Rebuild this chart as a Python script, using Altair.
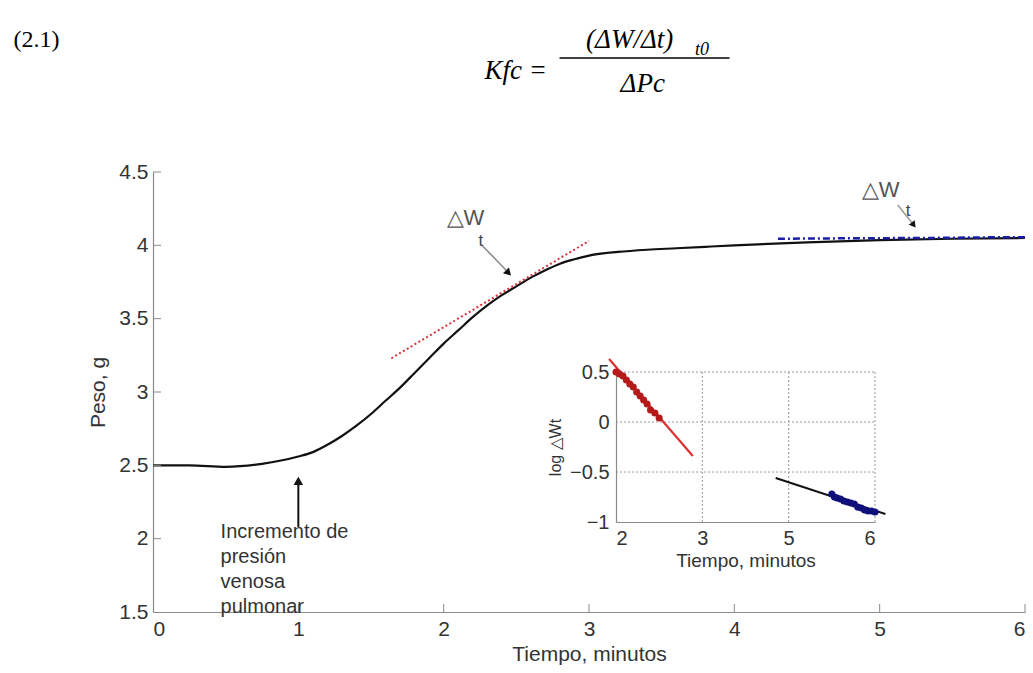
import altair as alt
import pandas as pd

# ---------------- main curve: Peso (g) vs Tiempo (min) ----------------
t_main = [0, 0.25, 0.5, 0.75, 1.0, 1.1, 1.2, 1.3, 1.4, 1.5, 1.6, 1.7, 1.8, 1.9, 2.0,
          2.1, 2.2, 2.3, 2.4, 2.5, 2.6, 2.7, 2.8, 2.9, 3.0, 3.2, 3.4, 3.6, 3.8, 4.0,
          4.5, 5.0, 5.5, 6.0]
w_main = [2.50, 2.50, 2.49, 2.51, 2.56, 2.59, 2.64, 2.70, 2.77, 2.85, 2.94, 3.03, 3.13,
          3.23, 3.33, 3.42, 3.51, 3.59, 3.66, 3.72, 3.78, 3.83, 3.875, 3.905, 3.93, 3.955,
          3.97, 3.98, 3.99, 4.00, 4.02, 4.035, 4.045, 4.05]

# tangent (red dotted) and late-phase fit (blue dash-dot)
tan_t = [1.64, 3.0]
tan_w = [3.23, 4.03]
late_t = [4.3, 4.8, 5.3, 5.8, 6.0]
late_w = [4.045, 4.048, 4.05, 4.055, 4.055]

xticks_main = [1, 2, 3, 4, 5, 6]
yticks_main = [2, 2.5, 3, 3.5, 4, 4.5]

# ---------------- inset: log dW vs Tiempo (broken axis 2-3 | 5-6) ----------------
red_fit_t = [1.92, 2.89]
red_fit_v = [0.63, -0.34]
red_pts_t = [2.00, 2.04, 2.08, 2.12, 2.16, 2.20, 2.24, 2.28, 2.32, 2.36, 2.40, 2.45, 2.50]
red_pts_v = [0.50, 0.48, 0.46, 0.42, 0.38, 0.35, 0.30, 0.26, 0.22, 0.18, 0.12, 0.09, 0.04]
blk_fit_t = [4.85, 6.12]
blk_fit_v = [-0.56, -0.92]
blue_pts_t = [5.50, 5.53, 5.56, 5.60, 5.64, 5.68, 5.72, 5.76, 5.80, 5.84, 5.88, 5.92, 5.96, 6.00]
blue_pts_v = [-0.72, -0.75, -0.76, -0.77, -0.79, -0.80, -0.81, -0.82, -0.85, -0.86, -0.88,
              -0.89, -0.89, -0.90]
inset_x_labels = ["2", "3", "5", "6"]
inset_y_ticks = [-1, -0.5, 0, 0.5]
inset_grid_t = [3, 5, 6]
inset_grid_v = [0.5, 0, -0.5]

# ---------------- annotations (data coordinates of the main chart) ----------------
ann_inc_t, ann_inc_w = 0.465, 2.005
ann_dw1 = (2.02, 4.186, 2.24, 4.03)      # ΔW text, t subscript
ann_dw2 = (4.876, 4.377, 5.18, 4.235)
arrow1 = (2.268, 3.996, 2.44, 3.82, 2.446, 3.812)
arrow2 = (5.124, 4.275, 5.225, 4.15, 5.234, 4.139)
arrow_up = (1.0, 2.08, 2.38, 2.394)

eq_label = (-0.96, 5.40)
eq_kfc = (2.71, 5.19)
eq_num = (3.28, 5.40)
eq_sub = (3.73, 5.335)
eq_bar = (2.797, 3.967, 5.277)
eq_den = (3.37, 5.10)

FONT = "Liberation Sans"
SERIF = "Liberation Serif"
TXT = "#333333"
AX = "#8a8a8a"

main_df = pd.DataFrame({"t": t_main, "w": w_main})
tan_df = pd.DataFrame({"t": tan_t, "w": tan_w})
late_df = pd.DataFrame({"t": late_t, "w": late_w})

x_main = alt.X("t:Q", scale=alt.Scale(domain=[0, 6], nice=False, zero=False),
               axis=alt.Axis(values=[0, 1, 2, 3, 4, 5, 6], format="d", labelFontSize=21,
                             labelPadding=6, title="Tiempo, minutos", titleFontSize=21,
                             titlePadding=4))
y_main = alt.Y("w:Q", scale=alt.Scale(domain=[1.5, 4.5], nice=False, zero=False),
               axis=alt.Axis(values=[1.5, 2, 2.5, 3, 3.5, 4, 4.5], format=".1~f",
                             labelFontSize=21, labelPadding=5, title="Peso, g",
                             titleFontSize=21, titlePadding=10))

curve = alt.Chart(main_df).mark_line(color="#111111", strokeWidth=2.2, interpolate="monotone").encode(
    x=x_main, y=y_main)
tangent = alt.Chart(tan_df).mark_line(color="#d8333a", strokeWidth=2, strokeDash=[2, 2.5]).encode(
    x="t:Q", y="w:Q")
late = alt.Chart(late_df).mark_line(color="#1b1fa8", strokeWidth=2.5, strokeDash=[7, 3, 2, 3]).encode(
    x="t:Q", y="w:Q")

xt_df = pd.DataFrame({"t": xticks_main})
yt_df = pd.DataFrame({"w": yticks_main})
xticks = alt.Chart(xt_df).mark_rule(color=AX, strokeWidth=1).encode(
    x="t:Q", y=alt.value(440), y2=alt.value(432))
yticks = alt.Chart(yt_df).mark_rule(color=AX, strokeWidth=1).encode(
    y="w:Q", x=alt.value(0), x2=alt.value(8))

# arrows
def seg(x0, y0, x1, y1):
    return pd.DataFrame({"t": [x0], "w": [y0], "t2": [x1], "w2": [y1]})

a1 = alt.Chart(seg(*arrow1[:4])).mark_rule(color="#888888", strokeWidth=1.5).encode(
    x="t:Q", y="w:Q", x2="t2:Q", y2="w2:Q")
a1h = alt.Chart(pd.DataFrame({"t": [arrow1[4]], "w": [arrow1[5]]})).mark_point(
    shape="triangle-up", filled=True, color="#111111", size=70, angle=136, opacity=1).encode(
    x="t:Q", y="w:Q")
a2 = alt.Chart(seg(*arrow2[:4])).mark_rule(color="#999999", strokeWidth=1.5).encode(
    x="t:Q", y="w:Q", x2="t2:Q", y2="w2:Q")
a2h = alt.Chart(pd.DataFrame({"t": [arrow2[4]], "w": [arrow2[5]]})).mark_point(
    shape="triangle-up", filled=True, color="#111111", size=55, angle=142, opacity=1).encode(
    x="t:Q", y="w:Q")
a3 = alt.Chart(seg(arrow_up[0], arrow_up[1], arrow_up[0], arrow_up[2])).mark_rule(
    color="#111111", strokeWidth=2).encode(x="t:Q", y="w:Q", x2="t2:Q", y2="w2:Q")
a3h = alt.Chart(pd.DataFrame({"t": [arrow_up[0]], "w": [arrow_up[3]]})).mark_point(
    shape="triangle-up", filled=True, color="#111111", size=90, opacity=1).encode(
    x="t:Q", y="w:Q")

def txt(x, y, s, **kw):
    base = dict(font=FONT, color=TXT, align="left", baseline="middle")
    base.update(kw)
    return alt.Chart(pd.DataFrame({"t": [x], "w": [y]})).mark_text(text=s, **base).encode(
        x="t:Q", y="w:Q")

inc = txt(ann_inc_t, ann_inc_w, ["Incremento de", "presión", "venosa", "pulmonar"],
          fontSize=20, baseline="alphabetic", lineHeight=25)
dw1 = txt(ann_dw1[0], ann_dw1[1], "\u25b3W", fontSize=22, color="#555555")
dw1s = txt(ann_dw1[2], ann_dw1[3], "t", fontSize=17, color="#444444")
dw2 = txt(ann_dw2[0], ann_dw2[1], "\u25b3W", fontSize=22, color="#555555")
dw2s = txt(ann_dw2[2], ann_dw2[3], "t", fontSize=17, color="#444444")

eq1 = txt(eq_label[0], eq_label[1], "(2.1)", font=SERIF, fontSize=24, color="#000000")
eq2 = txt(eq_kfc[0], eq_kfc[1], "Kfc =", font=SERIF, fontSize=27, fontStyle="italic",
          color="#000000", align="right")
eq3 = txt(eq_num[0], eq_num[1], "(\u0394W/\u0394t)", font=SERIF, fontSize=27,
          fontStyle="italic", color="#000000", align="center")
eq4 = txt(eq_sub[0], eq_sub[1], "t0", font=SERIF, fontSize=18, fontStyle="italic",
          color="#000000")
eq5 = alt.Chart(pd.DataFrame({"t": [eq_bar[0]], "t2": [eq_bar[1]], "w": [eq_bar[2]]})).mark_rule(
    color="#000000", strokeWidth=1.5).encode(x="t:Q", x2="t2:Q", y="w:Q")
eq6 = txt(eq_den[0], eq_den[1], "\u0394Pc", font=SERIF, fontSize=27, fontStyle="italic",
          color="#000000", align="center")

main = alt.layer(curve, tangent, late, xticks, yticks, a1, a1h, a2, a2h, a3, a3h,
                 inc, dw1, dw1s, dw2, dw2s, eq1, eq2, eq3, eq4, eq5, eq6)

# ---------------- inset ----------------
POS = "datum.t < 4 ? datum.t - 2 : datum.t - 3"
lab_expr = "['2','3','5','6'][datum.value]"

x_in = alt.X("pos:Q", scale=alt.Scale(domain=[0, 3], range=[463, 722], nice=False, zero=False),
             axis=alt.Axis(values=[0, 1, 2, 3], labelExpr=lab_expr, orient="bottom", offset=-90,
                           labelFontSize=20, labelPadding=6, title="Tiempo, minutos",
                           titleFontSize=19, titlePadding=3))
y_in = alt.Y("v:Q", scale=alt.Scale(domain=[-1, 0.5], range=[350, 200], nice=False, zero=False),
             axis=alt.Axis(values=inset_y_ticks, format="~g", orient="left", offset=-463,
                           labelFontSize=20, labelPadding=7, title="log  \u25b3Wt",
                           titleFontSize=16, titlePadding=6))

hgrid_df = pd.DataFrame({"v": inset_grid_v, "t": [2] * 3, "t2": [6] * 3})
vgrid_df = pd.DataFrame({"t": inset_grid_t, "v": [-1] * 3, "v2": [0.5] * 3})

hgrid = alt.Chart(hgrid_df).transform_calculate(pos=POS, pos2="datum.t2 - 3").mark_rule(
    color="#9a9a9a", strokeWidth=1, strokeDash=[2, 2]).encode(x=x_in, x2="pos2:Q", y=y_in)
vgrid = alt.Chart(vgrid_df).transform_calculate(pos=POS).mark_rule(
    color="#9a9a9a", strokeWidth=1, strokeDash=[2, 2]).encode(x="pos:Q", y="v:Q", y2="v2:Q")

red_fit = alt.Chart(pd.DataFrame({"t": red_fit_t, "v": red_fit_v})).transform_calculate(
    pos=POS).mark_line(color="#e03030", strokeWidth=2.2).encode(x="pos:Q", y="v:Q")
red_pts = alt.Chart(pd.DataFrame({"t": red_pts_t, "v": red_pts_v})).transform_calculate(
    pos=POS).mark_circle(color="#b51a1a", size=50, opacity=1).encode(x="pos:Q", y="v:Q")
blk_fit = alt.Chart(pd.DataFrame({"t": blk_fit_t, "v": blk_fit_v})).transform_calculate(
    pos=POS).mark_line(color="#111111", strokeWidth=2).encode(x="pos:Q", y="v:Q")
blue_pts = alt.Chart(pd.DataFrame({"t": blue_pts_t, "v": blue_pts_v})).transform_calculate(
    pos=POS).mark_circle(color="#10107a", size=50, opacity=1).encode(x="pos:Q", y="v:Q")

inset = alt.layer(hgrid, vgrid, red_fit, red_pts, blk_fit, blue_pts)

chart = alt.layer(main, inset).resolve_scale(x="independent", y="independent").properties(
    width=872, height=440, autosize="none",
    padding={"left": 153, "top": 172, "right": 8, "bottom": 61},
    background="white",
).configure_view(stroke=None).configure_axis(
    labelFont=FONT, titleFont=FONT, labelColor=TXT, titleColor=TXT, titleFontWeight="normal",
    domainColor=AX, domainWidth=1.2, ticks=False, grid=False,
)

chart.save("out.html", embed_options={"renderer": "svg", "actions": False})
